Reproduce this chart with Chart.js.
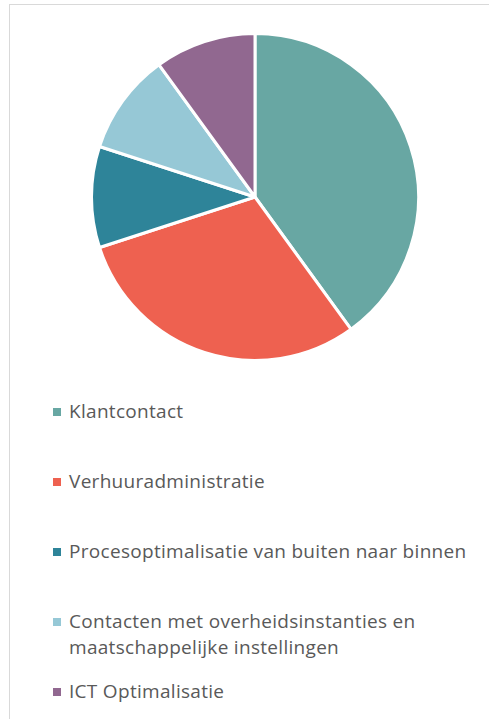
<!DOCTYPE html>
<html>
<head>
<meta charset="utf-8">
<script src="https://cdn.jsdelivr.net/npm/chart.js@4"></script>
<style>
  html, body { margin: 0; padding: 0; background: #fff; }
  body { width: 489px; height: 719px; position: relative; overflow: hidden; font-family: "Open Sans", Lato, sans-serif; }
  .frame { position: absolute; left: 9px; top: 4px; width: 490px; height: 730px; border-top: 1px solid #d9d9d9; border-left: 1px solid #d9d9d9; }
  .pie { position: absolute; left: 90px; top: 32px; width: 330px; height: 330px; }
  #legend { position: absolute; left: 53px; top: 398px; margin: 0; padding: 0; list-style: none; }
  #legend li { position: relative; height: 70px; padding-left: 16px; width: 416px; font-size: 19px; letter-spacing: 0.3px; line-height: 26px; color: #595959; }
  #legend li span { position: absolute; left: 0; top: 10px; width: 8px; height: 8px; }
</style>
</head>
<body>
<div class="frame"></div>
<div class="pie"><canvas id="taartChart"></canvas></div>
<ul id="legend"></ul>
<script>
// onderdelen en aandeel
const categorieen = [
    'Klantcontact',
    'Verhuuradministratie',
    'Procesoptimalisatie van buiten naar binnen',
    'Contacten met overheidsinstanties en maatschappelijke instellingen',
    'ICT Optimalisatie'
];
const waarden = [40, 30, 10, 10, 10];
const kleuren = ['#68A7A3', '#EE6150', '#2E8499', '#96C8D6', '#916890'];

document.addEventListener('DOMContentLoaded', () => {
    const ctx = document.getElementById('taartChart');
    const chart = new Chart(ctx, {
        type: 'pie',
        data: {
            labels: categorieen,
            datasets: [{
                data: waarden,
                backgroundColor: kleuren,
                borderColor: '#ffffff',
                borderWidth: 3
            }]
        },
        options: {
            responsive: true,
            maintainAspectRatio: false,
            animation: false,
            layout: { padding: 0 },
            plugins: {
                legend: { display: false },
                tooltip: { enabled: false }
            }
        }
    });

    // eigen legenda onder de taart
    const legend = document.getElementById('legend');
    chart.data.labels.forEach((label, i) => {
        const li = document.createElement('li');
        const box = document.createElement('span');
        box.style.background = kleuren[i];
        li.appendChild(box);
        li.appendChild(document.createTextNode(label));
        legend.appendChild(li);
    });
});
</script>
</body>
</html>
